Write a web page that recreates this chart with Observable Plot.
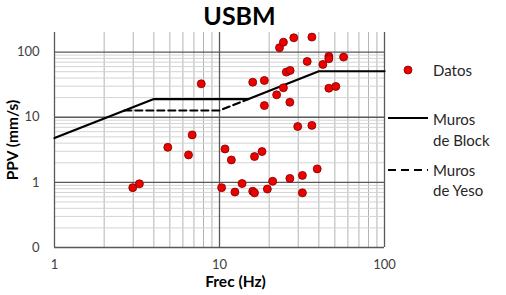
<!DOCTYPE html>
<html>
<head>
<meta charset="utf-8">
<script src="https://cdn.jsdelivr.net/npm/d3@7"></script>
<script src="https://cdn.jsdelivr.net/npm/@observablehq/plot@0.6"></script>
<style>
  html, body { margin: 0; padding: 0; background: #fff; }
  #chart { position: relative; width: 506px; height: 295px; font-family: Lato, "Open Sans", sans-serif; }
</style>
</head>
<body>
<div id="chart"></div>
<script>
// Data points (Frec Hz, PPV mm/s)
const frec = [7.75, 15.9, 18.7, 22.2, 18.7, 6.83, 23.1, 24.4, 28.2, 36.3, 34.0, 42.3, 46.0, 46.0, 56.5, 25.4, 26.8, 24.4, 26.7, 46.0, 50.7, 29.8, 36.3,
              4.86, 6.49, 10.8, 11.8, 16.3, 18.1, 10.3, 13.7, 12.4, 15.9, 16.3, 19.5, 21.0, 26.7, 31.8, 31.8, 39.1, 2.98, 3.27];
const ppv  = [32.6, 34.5, 36.7, 22.1, 15.1, 5.36, 117, 142, 166, 170, 71.9, 64.7, 86, 79, 83.8, 49.3, 52.3, 28.3, 17.0, 27.9, 29.7, 7.2, 7.5,
              3.45, 2.64, 3.26, 2.21, 2.49, 2.97, 0.83, 0.96, 0.71, 0.73, 0.69, 0.79, 1.04, 1.15, 1.28, 0.69, 1.61, 0.83, 0.95];

// USBM limit curves
const blockFrec = [1, 4, 15, 40, 100];
const blockPPV  = [4.8, 19, 19, 50.8, 50.8];
const yesoFrec  = [2.65, 10, 15];
const yesoPPV   = [12.7, 12.7, 19];

// Axis ticks
const xTicks = [1, 10, 100];
const yTicks = [0.1, 1, 10, 100];
const yTickLabels = ["0", "1", "10", "100"];
const xMinor = [2, 3, 4, 5, 6, 7, 8, 9, 20, 30, 40, 50, 60, 70, 80, 90];
const yMinor = [0.2, 0.3, 0.4, 0.5, 0.6, 0.7, 0.8, 0.9, 2, 3, 4, 5, 6, 7, 8, 9, 20, 30, 40, 50, 60, 70, 80, 90];

const points = frec.map((f, i) => ({f, v: ppv[i]}));
const block = blockFrec.map((f, i) => ({f, v: blockPPV[i]}));
const yeso = yesoFrec.map((f, i) => ({f, v: yesoPPV[i]}));

const plot = Plot.plot({
  width: 506,
  height: 295,
  marginLeft: 54,
  marginRight: 122,
  marginTop: 32,
  marginBottom: 48,
  style: {fontFamily: "Lato, 'Open Sans', sans-serif", fontSize: "13px", color: "#404040", background: "#fff"},
  x: {type: "log", domain: [1, 100]},
  y: {type: "log", domain: [0.1, 200]},
  marks: [
    Plot.ruleX(xMinor, {stroke: "#b3b3b3", strokeWidth: 1}),
    Plot.ruleY(yMinor, {stroke: "#d4d4d4", strokeWidth: 1}),
    Plot.ruleX(xTicks, {stroke: "#595959", strokeWidth: 1.3}),
    Plot.ruleY(yTicks, {stroke: "#595959", strokeWidth: 1.3}),
    Plot.axisX({ticks: xTicks, tickSize: 0, tickPadding: 12, tickFormat: d => String(d), label: null, fontSize: 13}),
    Plot.axisY({ticks: yTicks, tickSize: 0, tickPadding: 15, tickFormat: d => yTickLabels[yTicks.indexOf(d)], label: null, fontSize: 13}),
    Plot.line(block, {x: "f", y: "v", stroke: "#000", strokeWidth: 2.2}),
    Plot.line(yeso, {x: "f", y: "v", stroke: "#000", strokeWidth: 2.2, strokeDasharray: "7,4"}),
    Plot.dot(points, {x: "f", y: "v", r: 4, fill: "#ee0000", stroke: "#7a0000", strokeWidth: 0.8})
  ]
});

document.getElementById("chart").appendChild(plot);

// Title, axis labels and legend as annotations
const svg = d3.select(plot);
const g = svg.append("g").attr("font-family", "Lato, 'Open Sans', sans-serif").attr("fill", "#000").attr("text-anchor", "start");

g.append("text").attr("x", 239.5).attr("y", 25).attr("text-anchor", "middle")
  .attr("font-size", 25).attr("font-weight", "bold").text("USBM");

g.append("text").attr("x", 235.5).attr("y", 287).attr("text-anchor", "middle")
  .attr("font-size", 15.5).attr("font-weight", "bold").text("Frec (Hz)");

g.append("text").attr("transform", "translate(18,140) rotate(-90)").attr("text-anchor", "middle")
  .attr("font-size", 15.5).attr("font-weight", "bold").text("PPV (mm/s)");

const lg = g.append("g").attr("font-size", 15).attr("fill", "#262626").attr("text-anchor", "start");
lg.append("circle").attr("cx", 408).attr("cy", 70).attr("r", 4).attr("fill", "#ee0000").attr("stroke", "#7a0000").attr("stroke-width", 0.8);
lg.append("text").attr("x", 433).attr("y", 76).text("Datos");

lg.append("line").attr("x1", 388).attr("x2", 428).attr("y1", 118).attr("y2", 118).attr("stroke", "#000").attr("stroke-width", 2.2);
lg.append("text").attr("x", 433).attr("y", 125).text("Muros");
lg.append("text").attr("x", 433).attr("y", 146).text("de Block");

lg.append("line").attr("x1", 388).attr("x2", 428).attr("y1", 170).attr("y2", 170).attr("stroke", "#000").attr("stroke-width", 2.2).attr("stroke-dasharray", "8,5");
lg.append("text").attr("x", 433).attr("y", 176).text("Muros");
lg.append("text").attr("x", 433).attr("y", 196).text("de Yeso");
</script>
</body>
</html>
